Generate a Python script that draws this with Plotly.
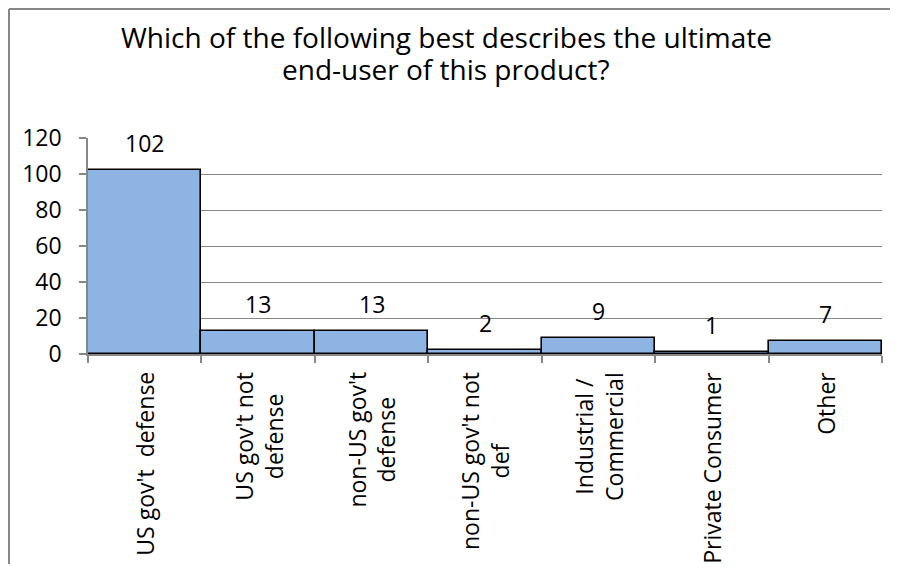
import plotly.graph_objects as go

# data
categories = [
    "US gov't\u00a0 defense",
    "US gov't not<br>defense",
    "non-US gov't<br>defense",
    "non-US gov't not<br>def",
    "Industrial /<br>Commercial",
    "Private Consumer",
    "Other",
]
counts = [102, 13, 13, 2, 9, 1, 7]
y_ticks = [0, 20, 40, 60, 80, 100, 120]

title_lines = [
    "Which of the following best describes the ultimate",
    "end-user of this product?",
]

FONT = "Open Sans, sans-serif"
# the page adds an 8px body margin, so keep the figure inside the window
W, H = 882, 556
ML, MR, MT, MB = 80, 8, 130, 210
PW, PH = W - ML - MR, H - MT - MB


def px_x(x):
    # figure pixel -> paper x
    return (x - ML) / PW


def px_y(y):
    # figure pixel -> paper y
    return (H - MB - y) / PH


fig = go.Figure()

fig.add_trace(go.Bar(
    x=categories,
    y=counts,
    marker=dict(color="#8EB4E3", line=dict(color="#000000", width=1.6)),
    showlegend=False,
    hoverinfo="x+y",
))

# value labels above each bar
for c, v in zip(categories, counts):
    fig.add_annotation(
        x=c, y=v, xref="x", yref="y",
        text=str(v), showarrow=False,
        yanchor="bottom", yshift=9,
        font=dict(family=FONT, size=23, color="#000000"),
    )

# rotated category labels, lines centred like Excel does
for c in categories:
    fig.add_annotation(
        x=c, y=0, xref="x", yref="paper",
        text=c, showarrow=False, textangle=-90,
        align="center", yanchor="top", yshift=-16,
        font=dict(family=FONT, size=23, color="#000000"),
    )

# chart title, one annotation per line for tighter line spacing
for i, line in enumerate(title_lines):
    fig.add_annotation(
        x=px_x(438), y=px_y(8 + 32 * i), xref="paper", yref="paper",
        text=line, showarrow=False,
        xanchor="center", yanchor="top",
        font=dict(family=FONT, size=28, color="#000000"),
    )

# outer chart border: only top and left edges fall inside the window
fig.add_shape(type="line", xref="paper", yref="paper",
              x0=px_x(1), x1=px_x(W), y0=px_y(1), y1=px_y(1),
              line=dict(color="#878787", width=2))
fig.add_shape(type="line", xref="paper", yref="paper",
              x0=px_x(1), x1=px_x(1), y0=px_y(1), y1=px_y(H),
              line=dict(color="#878787", width=2))

fig.update_layout(
    width=W, height=H,
    margin=dict(l=ML, r=MR, t=MT, b=MB),
    paper_bgcolor="white",
    plot_bgcolor="white",
    bargap=0,
    font=dict(family=FONT, color="#000000"),
    xaxis=dict(
        type="category",
        showticklabels=False,
        showline=True, linecolor="#878787", linewidth=1.5,
        ticks="outside", tickson="boundaries", ticklen=7,
        tickcolor="#878787", tickwidth=1.5,
        showgrid=False,
    ),
    yaxis=dict(
        range=[0, 120],
        tickvals=y_ticks,
        showline=True, linecolor="#878787", linewidth=1.5,
        ticks="outside", ticklen=7, tickcolor="#878787", tickwidth=1.5,
        showgrid=True, gridcolor="#878787", gridwidth=1,
        zeroline=False,
        ticklabelstandoff=13,
        tickfont=dict(family=FONT, size=23, color="#000000"),
    ),
)

fig.write_html("out.html")
